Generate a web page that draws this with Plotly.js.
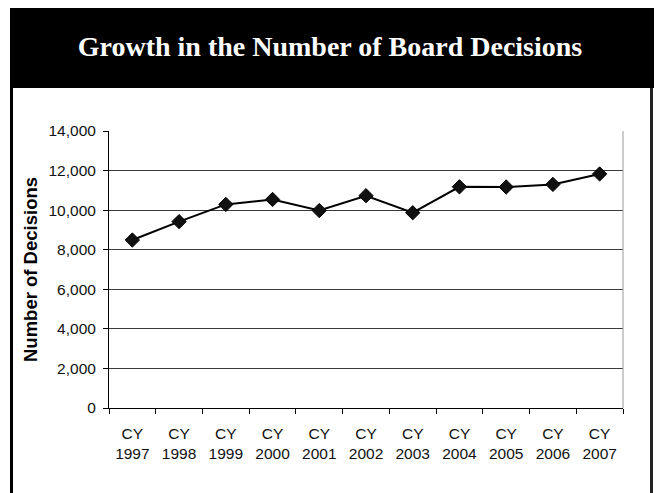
<!DOCTYPE html>
<html>
<head>
<meta charset="utf-8">
<script src="https://cdn.plot.ly/plotly-3.0.1.min.js"></script>
<style>html,body{margin:0;padding:0;background:#fff;}#chart{width:658px;height:493px;}</style>
</head>
<body>
<div id="chart"></div>
<script>
// Data
const categories = ["CY<br>1997","CY<br>1998","CY<br>1999","CY<br>2000","CY<br>2001","CY<br>2002","CY<br>2003","CY<br>2004","CY<br>2005","CY<br>2006","CY<br>2007"];
const decisions = [8490, 9420, 10290, 10540, 9980, 10730, 9870, 11180, 11170, 11300, 11830];
const yTickVals = [0, 2000, 4000, 6000, 8000, 10000, 12000, 14000];
const titleText = "Growth in the Number of Board Decisions";
const yTitleText = "Number of Decisions";

// Layout geometry (pixels)
const W = 658, H = 493;
const PL = 109, PR = 623, PT = 131, PB = 408;
const pw = PR - PL, ph = PB - PT;
const px = x => (x - PL) / pw;
const py = y => (PB - y) / ph;

const trace = {
  type: 'scatter',
  mode: 'lines+markers',
  x: categories,
  y: decisions,
  line: {color: '#000', width: 2},
  marker: {symbol: 'diamond', size: 11, color: '#111', line: {color: '#000', width: 1}},
  hoverinfo: 'x+y'
};

const layout = {
  width: W, height: H,
  margin: {l: PL, r: W - PR, t: PT, b: H - PB, pad: 0},
  paper_bgcolor: '#fff',
  plot_bgcolor: '#fff',
  showlegend: false,
  font: {family: 'Liberation Sans, Arial, sans-serif', color: '#000', size: 15},
  title: {
    text: titleText,
    x: 330 / W, xanchor: 'center',
    y: 1 - 46 / H, yanchor: 'middle',
    font: {family: 'Liberation Serif, Times New Roman, serif', size: 28, color: '#fff', weight: 'bold'}
  },
  xaxis: {
    type: 'category',
    range: [-0.5, categories.length - 0.5],
    tickson: 'boundaries',
    ticks: 'outside', ticklen: 5, tickcolor: '#000', tickwidth: 1,
    ticklabelstandoff: 11,
    showline: true, linecolor: '#000', linewidth: 1,
    showgrid: false, zeroline: false,
    tickfont: {size: 15.5, color: '#111'},
    fixedrange: true
  },
  yaxis: {
    range: [0, 14000],
    tickvals: yTickVals,
    ticktext: yTickVals.map(v => v.toLocaleString('en-US')),
    ticks: 'outside', ticklen: 5, tickcolor: '#000', tickwidth: 1,
    ticklabelstandoff: 4,
    showline: true, linecolor: '#000', linewidth: 1,
    showgrid: true, gridcolor: '#3a3a3a', gridwidth: 1,
    zeroline: false,
    tickfont: {size: 15.5, color: '#111'},
    title: {text: yTitleText, font: {size: 18.5, color: '#000', weight: 'bold'}, standoff: 6},
    fixedrange: true
  },
  shapes: [
    // black header band
    {type: 'rect', xref: 'paper', yref: 'paper', x0: px(10), x1: px(654), y0: py(88), y1: py(8),
     fillcolor: '#000', line: {width: 0}, layer: 'below'},
    // frame left
    {type: 'line', xref: 'paper', yref: 'paper', x0: px(11.5), x1: px(11.5), y0: py(88), y1: py(H + 5),
     line: {color: '#000', width: 3}},
    // frame right
    {type: 'line', xref: 'paper', yref: 'paper', x0: px(651.5), x1: px(651.5), y0: py(88), y1: py(H + 5),
     line: {color: '#222', width: 3}},
    // plot right edge
    {type: 'line', xref: 'paper', yref: 'paper', x0: 1, x1: 1, y0: 0, y1: 1,
     line: {color: '#999', width: 1}}
  ]
};

Plotly.newPlot('chart', [trace], layout, {displayModeBar: false, staticPlot: true});
</script>
</body>
</html>
